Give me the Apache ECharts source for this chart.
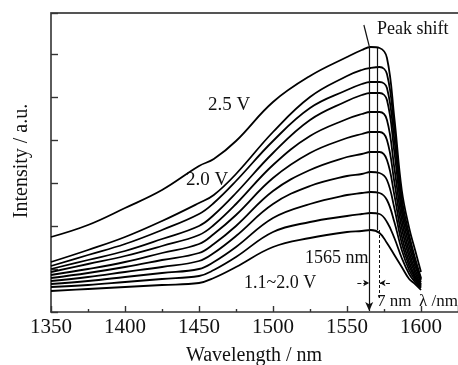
<!DOCTYPE html>
<html><head><meta charset="utf-8">
<script src="https://cdn.jsdelivr.net/npm/echarts@6/dist/echarts.min.js"></script>
<style>html,body{margin:0;padding:0;background:#fff}#c{width:458px;height:365px}</style>
</head><body><div id="c"></div>
<script>
// Wavelength samples (nm)
const wavelengths = [1350,1375,1400,1425,1450,1460,1475,1500,1525,1550,1560,1566,1572,1577,1582,1587,1592,1596,1600];
// Intensity (a.u.) of each EL spectrum, top (2.5 V) to bottom
const v25 = [54,66,83,101,125,132,150,189,215,234,241,244,243,233,173,101,63,41,19];
const v20 = [29,41,54,70,88,96,117,159,194,215,221,223,224,217,163,93,56,33,13];
const vC  = [25,36,47,61,77,88,110,150,183,201,207,209,209,203,151,86,51,29,12];
const vD  = [22,31,40,52,65,76,98,138,171,190,196,198,198,191,139,79,45,25,11];
const vE  = [19,27,35,45,56,66,87,126,155,172,177,179,179,171,123,71,39,21,9];
const vF  = [16,22,29,38,47,57,76,113,138,153,157,159,159,151,109,63,34,18,7];
const vG  = [13,18,24,31,38,47,65,100,121,134,137,139,139,131,96,55,29,15,6];
const vH  = [10,14,19,24,30,38,55,87,105,115,117,119,118,111,83,48,25,13,5];
const vI  = [7,10,14,18,22,29,44,73,87,96,98,99,98,91,69,41,21,11,4];
const vJ  = [4,6,9,12,15,21,34,59,69,75,77,78,77,69,53,33,17,9,3];
const vK  = [0,2,4,6,8,13,24,44,53,59,60,61,58,48,36,24,12,7,1];
const curves = [v25, v20, vC, vD, vE, vF, vG, vH, vI, vJ, vK];
const xTickLabels = [1350,1400,1450,1500,1550,1600];
const peakLow = 1565, peakHigh = 1572;

const FONT = '"Liberation Serif", "Times New Roman", serif';
const chart = echarts.init(document.getElementById('c'), null, {renderer:'canvas'});

const series = curves.map(vals => ({
  type:'line', xAxisIndex:0, yAxisIndex:0,
  data: wavelengths.map((w,i)=>[w, vals[i]]),
  showSymbol:false, smooth:0.4, silent:true,
  lineStyle:{color:'#000', width:1.8}
}));

const solid = {color:'#111', width:1.2, type:'solid'};
series.push({
  type:'line', data:[], silent:true,
  markLine:{
    silent:true, animation:false, label:{show:false},
    symbol:['none','none'],
    data:[
      [{coord:[1561.4,266], lineStyle:solid}, {coord:[peakLow,245]}],
      [{coord:[peakLow,245], lineStyle:solid, symbol:'none'}, {coord:[peakLow,-20], symbol:'arrow', symbolSize:[6,9]}],
      [{coord:[1570.5,243], lineStyle:solid}, {coord:[1570.5,61]}],
      [{coord:[peakHigh,61], lineStyle:{color:'#111', width:1, type:[3,2]}}, {coord:[peakHigh,-7]}],
      [{coord:[1557,8], lineStyle:{color:'#111', width:1}, symbol:'none'}, {coord:[peakLow,8], symbol:'arrow', symbolSize:[5,6]}],
      [{coord:[1579,8], lineStyle:{color:'#111', width:1}, symbol:'none'}, {coord:[peakHigh,8], symbol:'arrow', symbolSize:[5,6]}]
    ]
  }
});

function txt(text, x, y, size){
  return {type:'text', silent:true, x:x, y:y,
    style:{text:text, x:0, y:0, fill:'#111', font:size+'px '+FONT,
      textAlign:'left', textVerticalAlign:'middle', align:'left', verticalAlign:'middle'}};
}

chart.setOption({
  animation:false,
  backgroundColor:'#fff',
  grid:{left:51, right:-4, top:13, bottom:53, containLabel:false},
  xAxis:[{
    type:'value', min:1350, max:1625, interval:50,
    axisLine:{show:true, onZero:false, lineStyle:{color:'#333', width:1.6}},
    axisTick:{show:true, inside:true, length:6, lineStyle:{color:'#333', width:1.4}},
    minorTick:{show:true, splitNumber:2, length:3, lineStyle:{color:'#333', width:1.4}},
    splitLine:{show:false},
    axisLabel:{show:true, margin:5, color:'#111', fontFamily:FONT, fontSize:21,
      showMaxLabel:false,
      formatter: v => xTickLabels.includes(v) ? String(v) : ''}
  },{
    type:'value', position:'top', min:1350, max:1625,
    axisLine:{show:true, onZero:false, lineStyle:{color:'#555', width:1.8}},
    axisTick:{show:false}, axisLabel:{show:false}, splitLine:{show:false}
  }],
  yAxis:[{
    type:'value', min:-21, max:278, interval:43,
    axisLine:{show:true, onZero:false, lineStyle:{color:'#333', width:1.6}},
    axisTick:{show:true, inside:true, length:7, lineStyle:{color:'#333', width:1.4}},
    axisLabel:{show:false}, splitLine:{show:false}
  }],
  series: series,
  graphic:[
    txt('Peak shift', 377, 29, 18),
    txt('2.5 V', 208, 105, 19),
    txt('2.0 V', 186, 180, 19),
    txt('1565 nm', 305, 258, 18),
    txt('1.1~2.0 V', 244, 283, 18),
    txt('7 nm', 377, 302, 17),
    txt('λ /nm', 419, 302, 17),
    {type:'text', silent:true, x:254, y:356,
      style:{text:'Wavelength / nm', x:0, y:0, fill:'#111', font:'20px '+FONT,
        textAlign:'center', align:'center', textVerticalAlign:'middle', verticalAlign:'middle'}},
    {type:'text', silent:true, x:22, y:161, rotation:Math.PI/2,
      style:{text:'Intensity / a.u.', x:0, y:0, fill:'#111', font:'20px '+FONT,
        textAlign:'center', align:'center', textVerticalAlign:'middle', verticalAlign:'middle'}}
  ]
});
</script></body></html>
